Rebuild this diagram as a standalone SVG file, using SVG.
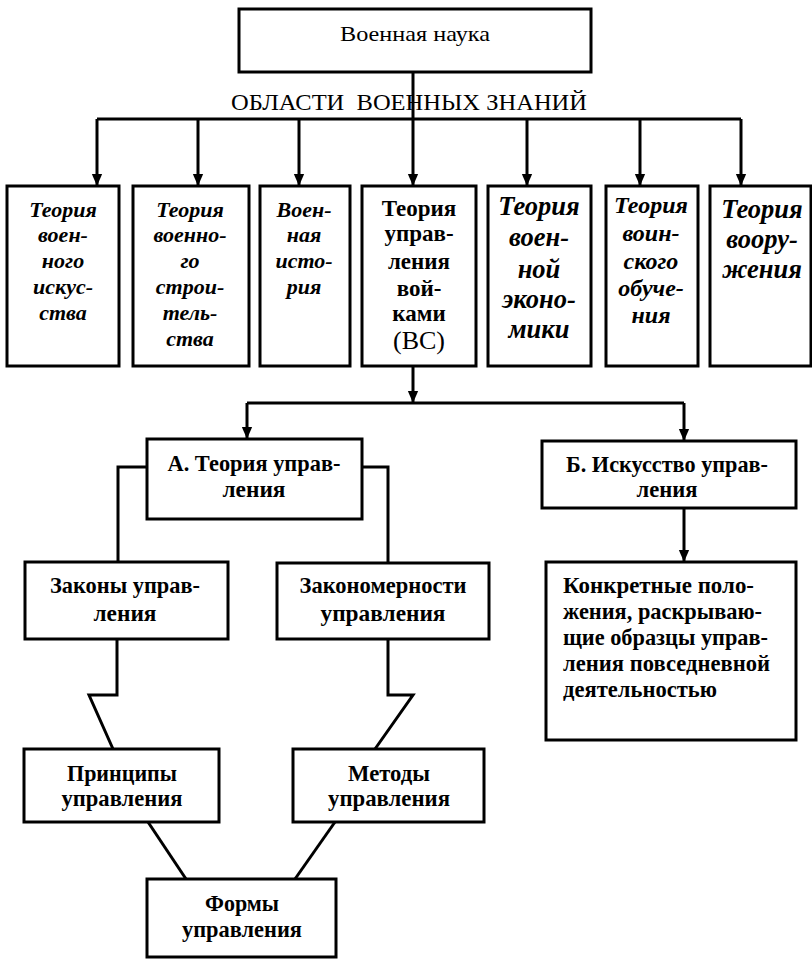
<svg xmlns="http://www.w3.org/2000/svg" width="812" height="959" viewBox="0 0 812 959" font-family="'Liberation Serif', 'Times New Roman', Times, serif">
  <style>
    .box { fill: #fff; stroke: #000; stroke-width: 3; }
    .wire { fill: none; stroke: #000; stroke-width: 3; }
    text { fill: #000; text-anchor: middle; }
    .bi { font-weight: bold; font-style: italic; }
    .b { font-weight: bold; font-size: 23px; }
    .left { text-anchor: start; }
  </style>
  <defs>
    <marker id="tip" markerUnits="userSpaceOnUse" markerWidth="12" markerHeight="14" refX="14" refY="6" orient="auto" viewBox="0 0 14 12">
      <path d="M0,0 L14,6 L0,12 Z" fill="#000"/>
    </marker>
  </defs>

  <!-- connectors -->
  <g id="connectors">
    <path class="wire" d="M97,119 H741"/>
    <path class="wire" d="M413,72 V186" marker-end="url(#tip)"/>
    <path class="wire" d="M97,119 V186" marker-end="url(#tip)"/>
    <path class="wire" d="M198,119 V186" marker-end="url(#tip)"/>
    <path class="wire" d="M299,119 V186" marker-end="url(#tip)"/>
    <path class="wire" d="M527,119 V186" marker-end="url(#tip)"/>
    <path class="wire" d="M640,119 V186" marker-end="url(#tip)"/>
    <path class="wire" d="M741,119 V186" marker-end="url(#tip)"/>

    <path class="wire" d="M413,366 V403" marker-end="url(#tip)"/>
    <path class="wire" d="M247,403 H684"/>
    <path class="wire" d="M247,403 V439" marker-end="url(#tip)"/>
    <path class="wire" d="M684,403 V441" marker-end="url(#tip)"/>

    <path class="wire" d="M147,467 H118 V562"/>
    <path class="wire" d="M362,467 H388 V563"/>
    <path class="wire" d="M684,508 V562" marker-end="url(#tip)"/>

    <path class="wire" d="M117,639 V695 H89 L113,749"/>
    <path class="wire" d="M388,639 V695 H413 L375,749"/>
    <path class="wire" d="M148,822 L186,879"/>
    <path class="wire" d="M335,822 L295,879"/>
  </g>

  <g id="military-science">
    <rect class="box" x="239" y="9" width="352" height="63"/>
    <text x="415" y="41" font-size="22" textLength="150" lengthAdjust="spacingAndGlyphs">Военная наука</text>
  </g>

  <text x="409" y="110" font-size="24" textLength="356" lengthAdjust="spacingAndGlyphs">ОБЛАСТИ&#160; ВОЕННЫХ ЗНАНИЙ</text>

  <g id="art-of-war">
    <rect class="box" x="7" y="186" width="112" height="180"/>
    <g class="bi" font-size="22">
      <text x="63" y="217">Теория</text>
      <text x="63" y="242">воен-</text>
      <text x="63" y="268">ного</text>
      <text x="63" y="294">искус-</text>
      <text x="63" y="320">ства</text>
    </g>
  </g>

  <g id="military-construction">
    <rect class="box" x="133" y="186" width="116" height="180"/>
    <g class="bi" font-size="22">
      <text x="190" y="217">Теория</text>
      <text x="190" y="242">военно-</text>
      <text x="190" y="268">го</text>
      <text x="190" y="294">строи-</text>
      <text x="190" y="320">тель-</text>
      <text x="190" y="346">ства</text>
    </g>
  </g>

  <g id="military-history">
    <rect class="box" x="260" y="186" width="90" height="180"/>
    <g class="bi" font-size="22">
      <text x="304" y="217">Воен-</text>
      <text x="304" y="242">ная</text>
      <text x="304" y="268">исто-</text>
      <text x="304" y="294">рия</text>
    </g>
  </g>

  <g id="command-theory">
    <rect class="box" x="362" y="186" width="114" height="180"/>
    <g class="b" font-size="23">
      <text x="419" y="216">Теория</text>
      <text x="419" y="241">управ-</text>
      <text x="419" y="269">ления</text>
      <text x="419" y="296">вой-</text>
      <text x="419" y="321">ками</text>
    </g>
    <text x="419" y="349" font-size="26">(ВС)</text>
  </g>

  <g id="military-economy">
    <rect class="box" x="488" y="186" width="103" height="180"/>
    <g class="bi" font-size="26.5">
      <text x="539" y="215">Теория</text>
      <text x="539" y="246">воен-</text>
      <text x="539" y="278">ной</text>
      <text x="539" y="308">эконо-</text>
      <text x="539" y="338">мики</text>
    </g>
  </g>

  <g id="military-training">
    <rect class="box" x="606" y="186" width="92" height="180"/>
    <g class="bi" font-size="24">
      <text x="651" y="213">Теория</text>
      <text x="651" y="241">воин-</text>
      <text x="651" y="269">ского</text>
      <text x="651" y="296">обуче-</text>
      <text x="651" y="323">ния</text>
    </g>
  </g>

  <g id="armament">
    <rect class="box" x="710" y="186" width="101" height="180"/>
    <g class="bi" font-size="26.5">
      <text x="762" y="218">Теория</text>
      <text x="762" y="248">воору-</text>
      <text x="762" y="278">жения</text>
    </g>
  </g>

  <g id="theory-a">
    <rect class="box" x="147" y="439" width="215" height="80"/>
    <g class="b">
      <text x="254" y="471" textLength="173" lengthAdjust="spacingAndGlyphs">А. Теория управ-</text>
      <text x="254" y="497" textLength="63" lengthAdjust="spacingAndGlyphs">ления</text>
    </g>
  </g>

  <g id="art-b">
    <rect class="box" x="542" y="441" width="254" height="67"/>
    <g class="b">
      <text x="667" y="472" textLength="202" lengthAdjust="spacingAndGlyphs">Б. Искусство управ-</text>
      <text x="667" y="497" textLength="61" lengthAdjust="spacingAndGlyphs">ления</text>
    </g>
  </g>

  <g id="laws">
    <rect class="box" x="25" y="562" width="203" height="77"/>
    <g class="b">
      <text x="125" y="593" textLength="150" lengthAdjust="spacingAndGlyphs">Законы управ-</text>
      <text x="125" y="621" textLength="63" lengthAdjust="spacingAndGlyphs">ления</text>
    </g>
  </g>

  <g id="regularities">
    <rect class="box" x="277" y="563" width="212" height="76"/>
    <g class="b">
      <text x="383" y="593" textLength="167" lengthAdjust="spacingAndGlyphs">Закономерности</text>
      <text x="383" y="621" textLength="125" lengthAdjust="spacingAndGlyphs">управления</text>
    </g>
  </g>

  <g id="provisions">
    <rect class="box" x="546" y="562" width="250" height="178"/>
    <g class="b">
      <text class="left" x="563" y="593" textLength="191" lengthAdjust="spacingAndGlyphs">Конкретные поло-</text>
      <text class="left" x="563" y="619" textLength="199" lengthAdjust="spacingAndGlyphs">жения, раскрываю-</text>
      <text class="left" x="563" y="645" textLength="205" lengthAdjust="spacingAndGlyphs">щие образцы управ-</text>
      <text class="left" x="563" y="671" textLength="207" lengthAdjust="spacingAndGlyphs">ления повседневной</text>
      <text class="left" x="563" y="697" textLength="154" lengthAdjust="spacingAndGlyphs">деятельностью</text>
    </g>
  </g>

  <g id="principles">
    <rect class="box" x="24" y="749" width="195" height="73"/>
    <g class="b">
      <text x="122" y="781" textLength="110" lengthAdjust="spacingAndGlyphs">Принципы</text>
      <text x="122" y="806" textLength="121" lengthAdjust="spacingAndGlyphs">управления</text>
    </g>
  </g>

  <g id="methods">
    <rect class="box" x="293" y="749" width="191" height="73"/>
    <g class="b">
      <text x="389" y="781" textLength="82" lengthAdjust="spacingAndGlyphs">Методы</text>
      <text x="389" y="806" textLength="122" lengthAdjust="spacingAndGlyphs">управления</text>
    </g>
  </g>

  <g id="forms">
    <rect class="box" x="147" y="879" width="189" height="78"/>
    <g class="b">
      <text x="242" y="911" textLength="74" lengthAdjust="spacingAndGlyphs">Формы</text>
      <text x="242" y="937" textLength="120" lengthAdjust="spacingAndGlyphs">управления</text>
    </g>
  </g>
</svg>
